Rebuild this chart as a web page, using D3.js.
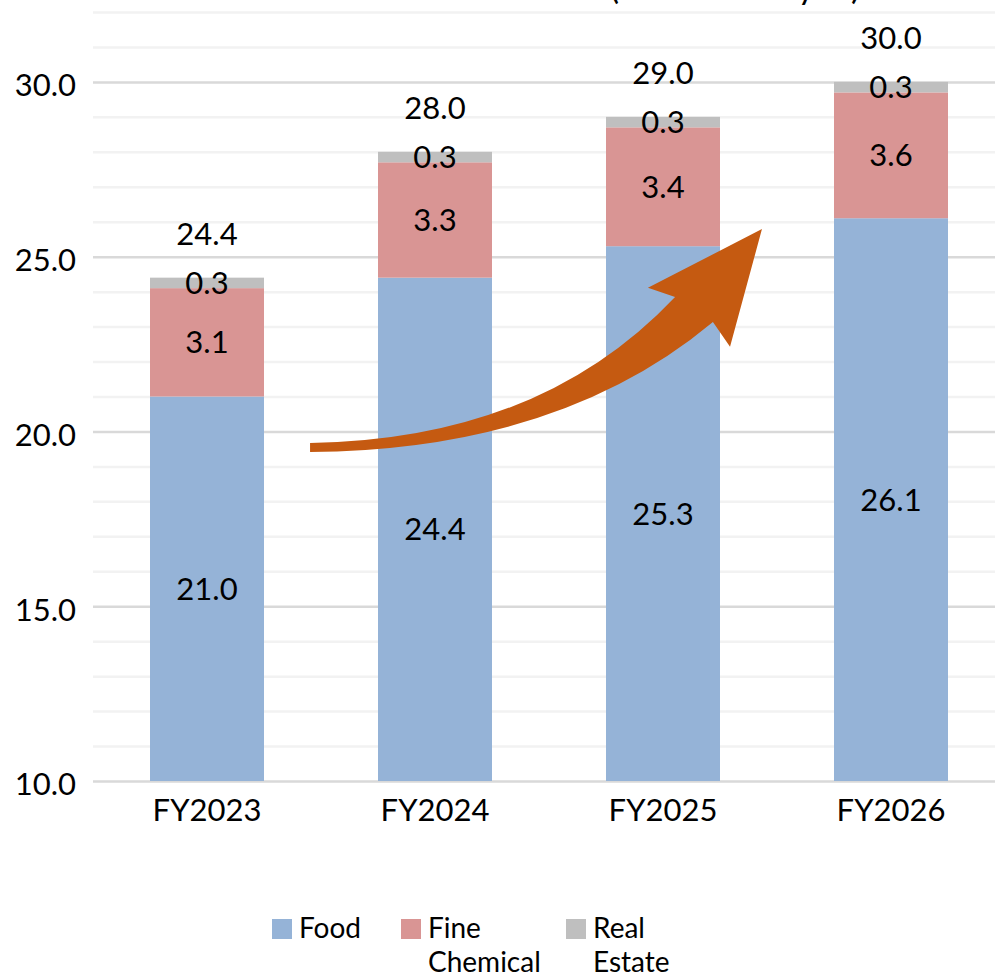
<!DOCTYPE html>
<html>
<head>
<meta charset="utf-8">
<script src="https://cdn.jsdelivr.net/npm/d3@7"></script>
<style>
  body { margin: 0; background: #fff; }
  text { font-family: Lato, "Open Sans", sans-serif; fill: #000; }
</style>
</head>
<body>
<svg id="chart" width="995" height="977"></svg>
<script>
// chart data
var years = ["FY2023", "FY2024", "FY2025", "FY2026"];
var seriesNames = ["Food", "Fine Chemical", "Real Estate"];
var food = [21.0, 24.4, 25.3, 26.1];
var fineChemical = [3.1, 3.3, 3.4, 3.6];
var realEstate = [0.3, 0.3, 0.3, 0.3];
var totals = [24.4, 28.0, 29.0, 30.0];
var yTicks = [10, 15, 20, 25, 30];

var colors = ["#95b3d7", "#d99594", "#bfbfbf"];
var fontSize = 31;

var svg = d3.select("#chart");

var x = d3.scaleBand().domain(years).range([93, 1005])
    .paddingInner(0.5).paddingOuter(0.25);
var y = d3.scaleLinear().domain([10, 32]).range([781, 12]);

// partly cut-off unit title at the very top
svg.append("text")
    .attr("x", 735).attr("y", -1)
    .attr("text-anchor", "middle")
    .attr("font-size", 34)
    .text("(Unit: billion yen)");

// grid lines, every 1.0; darker every 5.0
var grid = svg.append("g");
grid.selectAll("line")
    .data(d3.range(10, 33, 1))
    .join("line")
    .attr("x1", 93).attr("x2", 1005)
    .attr("y1", function (d) { return y(d) + 0.5; })
    .attr("y2", function (d) { return y(d) + 0.5; })
    .attr("stroke", function (d) { return d % 5 === 0 ? "#d9d9d9" : "#f2f2f2"; })
    .attr("stroke-width", 2.5);

// stacked bars
var rows = years.map(function (yr, i) {
    return { year: yr, food: food[i], fine: fineChemical[i], real: realEstate[i] };
});
var stack = d3.stack().keys(["food", "fine", "real"]);
var layers = stack(rows);

var bars = svg.append("g");
layers.forEach(function (layer, k) {
    bars.append("g")
        .attr("fill", colors[k])
        .selectAll("rect")
        .data(layer)
        .join("rect")
        .attr("x", function (d) { return x(d.data.year); })
        .attr("width", x.bandwidth())
        .attr("y", function (d) { return y(d[1]); })
        .attr("height", function (d) { return y(Math.max(d[0], 10)) - y(d[1]); });
});

// segment labels
var labels = svg.append("g")
    .attr("font-size", fontSize)
    .attr("text-anchor", "middle");
layers.forEach(function (layer) {
    labels.append("g")
        .selectAll("text")
        .data(layer)
        .join("text")
        .attr("x", function (d) { return x(d.data.year) + x.bandwidth() / 2; })
        .attr("y", function (d) { return y((Math.max(d[0], 10) + d[1]) / 2); })
        .attr("dy", "0.36em")
        .text(function (d) { return d3.format(".1f")(d[1] - d[0]); });
});

// totals above the bars
labels.append("g")
    .selectAll("text")
    .data(totals)
    .join("text")
    .attr("x", function (d, i) { return x(years[i]) + x.bandwidth() / 2; })
    .attr("y", function (d) { return y(d) - 44; })
    .attr("dy", "0.36em")
    .text(function (d) { return d3.format(".1f")(d); });

// y axis labels
var yAxis = svg.append("g")
    .attr("transform", "translate(76,0)")
    .call(d3.axisLeft(y).tickValues(yTicks).tickSize(0).tickPadding(0).tickFormat(d3.format(".1f")));
yAxis.select(".domain").remove();
yAxis.selectAll("text")
    .attr("font-size", fontSize)
    .attr("font-family", "Lato, sans-serif")
    .attr("fill", "#000")
    .attr("dy", "0.45em");

// x axis labels
var xAxis = svg.append("g")
    .attr("transform", "translate(0,781)")
    .call(d3.axisBottom(x).tickSize(0).tickPadding(18));
xAxis.select(".domain").remove();
xAxis.selectAll("text")
    .attr("font-size", fontSize)
    .attr("font-family", "Lato, sans-serif")
    .attr("fill", "#000")
    .attr("dy", "0.71em");

// growth arrow, points given as [band offset from FY2023 centre, value]
var arrowPts = [
    [0.452, 19.67], [1.461, 19.76], [2.053, 23.85], [1.934, 24.11], [2.434, 25.79],
    [2.294, 22.42], [2.219, 23.13], [1.548, 19.47], [0.452, 19.41]
];
var cx0 = x(years[0]) + x.bandwidth() / 2;
var pt = arrowPts.map(function (p) { return [cx0 + p[0] * x.step(), y(p[1])]; });
var ap = d3.path();
ap.moveTo(pt[0][0], pt[0][1]);
ap.quadraticCurveTo(pt[1][0], pt[1][1], pt[2][0], pt[2][1]);
ap.lineTo(pt[3][0], pt[3][1]);
ap.lineTo(pt[4][0], pt[4][1]);
ap.lineTo(pt[5][0], pt[5][1]);
ap.lineTo(pt[6][0], pt[6][1]);
ap.quadraticCurveTo(pt[7][0], pt[7][1], pt[8][0], pt[8][1]);
ap.closePath();
svg.append("path")
    .attr("d", ap.toString())
    .attr("fill", "#c55a11");

// legend
var legendX = [272, 401, 566];
var legendLines = [["Food"], ["Fine", "Chemical"], ["Real", "Estate"]];
var legend = svg.append("g");
var item = legend.selectAll("g")
    .data(seriesNames)
    .join("g")
    .attr("transform", function (d, i) { return "translate(" + legendX[i] + ",919)"; });
item.append("rect")
    .attr("width", 20).attr("height", 20)
    .attr("fill", function (d, i) { return colors[i]; });
item.append("text")
    .attr("x", 27)
    .attr("font-size", 28)
    .selectAll("tspan")
    .data(function (d, i) { return legendLines[i]; })
    .join("tspan")
    .attr("x", 27)
    .attr("y", function (d, j) { return 19 + j * 34; })
    .text(function (d) { return d; });
</script>
</body>
</html>
